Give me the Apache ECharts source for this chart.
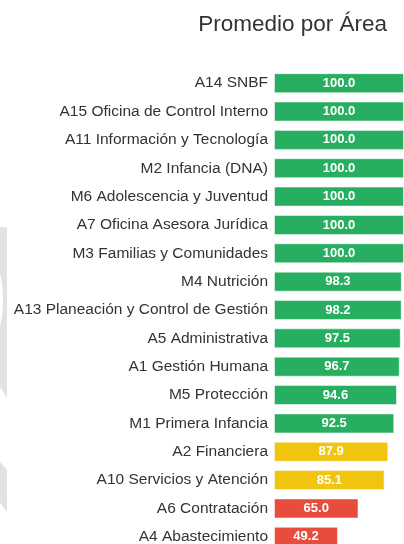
<!DOCTYPE html>
<html>
<head>
<meta charset="utf-8">
<script src="https://cdn.jsdelivr.net/npm/echarts@6/dist/echarts.min.js"></script>
<style>
  html, body { margin: 0; padding: 0; background: #fff; }
  #chart { width: 404px; height: 544px; }
</style>
</head>
<body>
<div id="chart"></div>
<script>
// áreas, de arriba hacia abajo
const areas = [
  'A14 SNBF',
  'A15 Oficina de Control Interno',
  'A11 Información y Tecnología',
  'M2 Infancia (DNA)',
  'M6 Adolescencia y Juventud',
  'A7 Oficina Asesora Jurídica',
  'M3 Familias y Comunidades',
  'M4 Nutrición',
  'A13 Planeación y Control de Gestión',
  'A5 Administrativa',
  'A1 Gestión Humana',
  'M5 Protección',
  'M1 Primera Infancia',
  'A2 Financiera',
  'A10 Servicios y Atención',
  'A6 Contratación',
  'A4 Abastecimiento'
]
const promedios = [100.0, 100.0, 100.0, 100.0, 100.0, 100.0, 100.0, 98.3, 98.2, 97.5, 96.7, 94.6, 92.5, 87.9, 85.1, 65.0, 49.2]

// color según el puntaje
const colorFor = (v) => {
  if (v >= 90) return '#27ae60'
  if (v >= 80) return '#f1c40f'
  return '#e74c3c'
}

const FONT = '"Liberation Sans", Arial, sans-serif'

const chart = echarts.init(document.getElementById('chart'))

const option = {
  animation: false,
  title: {
    text: 'Promedio por Área',
    right: 12,
    top: 8,
    textStyle: {
      fontFamily: FONT,
      fontSize: 22.5,
      fontWeight: 'normal',
      color: '#333'
    }
  },
  // marca de agua gris a la izquierda
  graphic: [
    {
      type: 'polygon',
      z: -10,
      shape: { points: [[0, 227], [7, 227], [7, 398], [0, 387]] },
      style: { fill: '#e2e2e2' }
    },
    {
      type: 'circle',
      z: -9,
      x: -10,
      y: 300,
      scaleY: 3.2,
      shape: { cx: 0, cy: 0, r: 13 },
      style: { fill: '#fff' }
    },
    {
      type: 'polygon',
      z: -10,
      shape: { points: [[0, 462], [7, 470], [7, 512], [0, 503]] },
      style: { fill: '#e2e2e2' }
    }
  ],
  grid: {
    left: 274,
    right: 0,
    top: 69,
    height: 482,
    containLabel: false,
    outerBoundsMode: 'none'
  },
  xAxis: {
    type: 'value',
    min: 0,
    max: 100,
    show: false
  },
  yAxis: {
    type: 'category',
    inverse: true,
    data: areas,
    axisLine: { show: false },
    axisTick: { show: false },
    axisLabel: {
      margin: 6,
      fontFamily: FONT,
      fontSize: 15.5,
      color: '#333'
    }
  },
  series: [
    {
      type: 'bar',
      barWidth: 20,
      data: promedios.map((v) => ({
        value: v,
        itemStyle: { color: colorFor(v) }
      })),
      itemStyle: {
        borderColor: 'rgba(255,255,255,0.5)',
        borderWidth: 1
      },
      label: {
        show: true,
        position: 'inside',
        formatter: (p) => p.value.toFixed(1),
        fontFamily: FONT,
        fontSize: 13,
        fontWeight: 'bold',
        color: '#fff'
      }
    }
  ]
}

chart.setOption(option)
</script>
</body>
</html>
